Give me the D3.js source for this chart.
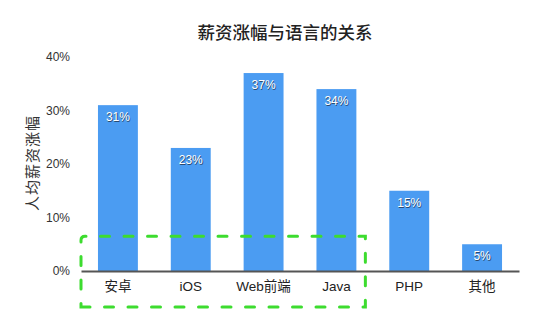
<!DOCTYPE html>
<html>
<head>
<meta charset="utf-8">
<script src="https://cdn.jsdelivr.net/npm/d3@7"></script>
<style>
  body { margin: 0; background: #fff; }
  svg { font-family: "Noto Sans CJK SC", "Liberation Sans", sans-serif; }
</style>
</head>
<body>
<div id="chart"></div>
<script>
// chart data
const categories = ["安卓", "iOS", "Web前端", "Java", "PHP", "其他"];
const values = [31, 23, 37, 34, 15, 5];
const yTicks = [0, 10, 20, 30, 40];

const title = "薪资涨幅与语言的关系";
const yTitle = "人均薪资涨幅";

const width = 550, height = 323;
const margin = {top: 57, right: 31, bottom: 52, left: 81};

const svg = d3.select("#chart").append("svg")
    .attr("width", width)
    .attr("height", height);

const xScale = d3.scaleBand()
    .domain(categories)
    .range([margin.left, width - margin.right])
    .paddingInner(0.452)
    .paddingOuter(0.233);

const yScale = d3.scaleLinear()
    .domain([0, 40])
    .range([height - margin.bottom, margin.top]);

// title
svg.append("text")
    .attr("x", 285)
    .attr("y", 39)
    .attr("text-anchor", "middle")
    .attr("font-size", 17.5)
    .attr("font-weight", 500)
    .attr("fill", "#222")
    .text(title);

// y axis title
svg.append("text")
    .attr("transform", `translate(38,${yScale(20) - 1}) rotate(-90)`)
    .attr("text-anchor", "middle")
    .attr("font-size", 15)
    .attr("letter-spacing", 1)
    .attr("fill", "#333")
    .text(yTitle);

// y tick labels (no axis line)
const yAxis = d3.axisLeft(yScale)
    .tickValues(yTicks)
    .tickFormat(d => d + "%")
    .tickSize(0)
    .tickPadding(0);

svg.append("g")
    .attr("transform", `translate(${margin.left - 11},0)`)
    .call(yAxis)
    .call(g => g.select(".domain").remove())
    .call(g => g.selectAll("text")
        .attr("font-family", "Liberation Sans, Arial, sans-serif")
        .attr("font-size", 12)
        .attr("fill", "#333"));

// bars
svg.selectAll(".bar")
    .data(values)
    .join("rect")
    .attr("class", "bar")
    .attr("x", (d, i) => xScale(categories[i]))
    .attr("y", d => yScale(d))
    .attr("width", xScale.bandwidth())
    .attr("height", d => yScale(0) - yScale(d))
    .attr("fill", "#4b9cf2");

// value labels, white with a dark shadow
const labels = svg.append("g")
    .attr("font-family", "Liberation Sans, Arial, sans-serif")
    .attr("font-size", 12)
    .attr("text-anchor", "middle");

labels.selectAll(".shadow")
    .data(values)
    .join("text")
    .attr("class", "shadow")
    .attr("x", (d, i) => xScale(categories[i]) + xScale.bandwidth() / 2 + 0.8)
    .attr("y", d => yScale(d) + 16.8)
    .attr("fill", "#2a4a70")
    .text(d => d + "%");

labels.selectAll(".val")
    .data(values)
    .join("text")
    .attr("class", "val")
    .attr("x", (d, i) => xScale(categories[i]) + xScale.bandwidth() / 2)
    .attr("y", d => yScale(d) + 16)
    .attr("fill", "#fff")
    .text(d => d + "%");

// x axis
const xAxis = d3.axisBottom(xScale)
    .tickSize(0)
    .tickPadding(10)
    .tickSizeOuter(0);

svg.append("g")
    .attr("transform", `translate(0,${yScale(0)})`)
    .call(xAxis)
    .call(g => g.select(".domain")
        .attr("stroke", "#555")
        .attr("stroke-width", 2))
    .call(g => g.selectAll("text")
        .attr("font-family", "Liberation Sans, Noto Sans CJK SC, sans-serif")
        .attr("font-size", 13.5)
        .attr("fill", "#222"));

// green dashed highlight around the first four languages
const boxLeft = margin.left;
const boxRight = xScale("Java") + xScale.bandwidth() + 9;
const boxTop = yScale(6.5);
const boxBottom = yScale(0) + 36;

svg.append("path")
    .attr("d", `M${boxLeft},${boxBottom} L${boxRight},${boxBottom} L${boxRight},${boxTop} L${boxLeft + 4},${boxTop} Q${boxLeft},${boxTop} ${boxLeft},${boxTop + 4} Z`)
    .attr("fill", "none")
    .attr("stroke", "#3ddc2f")
    .attr("stroke-width", 3)
    .attr("stroke-dasharray", "9,14.5")
    .attr("stroke-linecap", "round");
</script>
</body>
</html>
